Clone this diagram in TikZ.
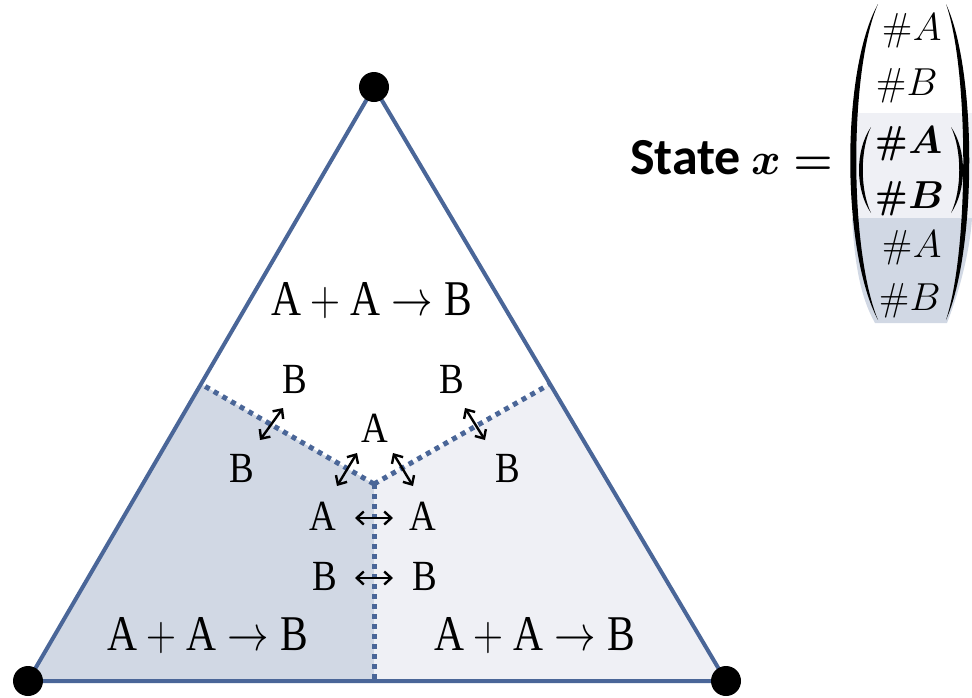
\RequirePackage{fix-cm}
\documentclass[tikz,border=0pt]{standalone}
\usepackage{fontspec}
\usepackage{amsmath}
\newfontfamily\carlito{Carlito}
\newfontfamily\lsf{Liberation Serif}
\usetikzlibrary{arrows.meta}
\definecolor{edge}{HTML}{4A6698}
\definecolor{darkfill}{HTML}{D1D8E4}
\definecolor{lightfill}{HTML}{EFF0F5}
\newcommand\sqz[1]{\scalebox{0.86}[1]{\lsf #1}}
\newcommand\rxn{\scalebox{0.83}[1]{$\text{\lsf A}+\text{\lsf A}\rightarrow\text{\lsf B}$}}
\newcommand\beq{\boldsymbol{x}\boldsymbol{=}}
\begin{document}
\begin{tikzpicture}[x=1pt,y=-1pt,
  big/.style={inner sep=0pt,anchor=base,font=\fontsize{50}{56}\selectfont},
  mid/.style={inner sep=0pt,anchor=base,font=\fontsize{43}{50}\selectfont},
  ent/.style={inner sep=0pt,anchor=base,font=\fontsize{39}{44}\selectfont},
  eqf/.style={inner sep=0pt,anchor=base west,font=\fontsize{45}{50}\selectfont},
  statef/.style={inner sep=0pt,anchor=base west,font=\carlito\bfseries\fontsize{52}{58}\selectfont},
  tri/.style={draw=edge,line width=4pt,line join=round},
  part/.style={draw=edge,line width=5pt,dash pattern=on 5pt off 5pt},
  vdot/.style={circle,fill=black,minimum size=30pt,inner sep=0pt},
  swap/.style={black,line width=2.4pt,{Straight Barb[length=7pt,width=13pt]}-{Straight Barb[length=7pt,width=13pt]}},
]
\useasboundingbox (0,0) rectangle (972,697);
% geometry
\coordinate (T) at (374,87);
\coordinate (L) at (28,681);
\coordinate (R) at (726,681);
\coordinate (C) at (374,484);
\coordinate (ML) at (201,384);
\coordinate (MR) at (550,384);
\coordinate (MB) at (374,681);
% regions
\fill[darkfill] (L) -- (ML) -- (C) -- (MB) -- cycle;
\fill[lightfill] (R) -- (MR) -- (C) -- (MB) -- cycle;
\draw[part] (C) -- (ML);
\draw[part] (C) -- (MR);
\draw[part] (C) -- (MB);
\draw[tri] (T) -- (L) -- (R) -- cycle;
\node[vdot] (dT) at (T) {};
\node[vdot] (dL) at (L) {};
\node[vdot] (dR) at (R) {};
% reaction labels
\node[big] (rTop) at (372,315) {\rxn};
\node[big] (rL) at (208,650) {\rxn};
\node[big] (rR) at (535,650) {\rxn};
% species labels
\node[mid] (bTL) at (295,393) {\sqz{B}};
\node[mid] (bTR) at (452,393) {\sqz{B}};
\node[mid] (aC) at (375,442) {\sqz{A}};
\node[mid] (bL) at (242,482) {\sqz{B}};
\node[mid] (bR) at (508,482) {\sqz{B}};
\node[mid] (aL) at (323,530) {\sqz{A}};
\node[mid] (aR) at (423,530) {\sqz{A}};
\node[mid] (bbL) at (325,590) {\sqz{B}};
\node[mid] (bbR) at (425,590) {\sqz{B}};
% exchange arrows
\coordinate (d1a) at (283,408); \coordinate (d1b) at (260,440);
\coordinate (d2a) at (357,453); \coordinate (d2b) at (337,486);
\coordinate (d3a) at (393,453); \coordinate (d3b) at (413,486);
\coordinate (d4a) at (465,408); \coordinate (d4b) at (485,440);
\coordinate (h1a) at (355,518); \coordinate (h1b) at (393,518);
\coordinate (h2a) at (355,578); \coordinate (h2b) at (393,578);
\draw[swap] (d1a) -- (d1b);
\draw[swap] (d2a) -- (d2b);
\draw[swap] (d3a) -- (d3b);
\draw[swap] (d4a) -- (d4b);
\draw[swap] (h1a) -- (h1b);
\draw[swap] (h2a) -- (h2b);
% state vector
\fill[lightfill] (856,113) rectangle (972,218);
\fill[darkfill] (852,218) .. controls (855,270) and (862,300) .. (875,323) -- (947,323) .. controls (960,290) and (970,250) .. (972,218) -- cycle;
\fill[black] (878,4) .. controls (841,70) and (841,250) .. (878,320) .. controls (849,250) and (849,70) .. (878,4) -- cycle;
\fill[black] (946,4) .. controls (977,70) and (977,250) .. (946,320) .. controls (969,250) and (969,70) .. (946,4) -- cycle;
\fill[black] (871,127) .. controls (855,150) and (855,190) .. (871,213) .. controls (860,190) and (860,150) .. (871,127) -- cycle;
\fill[black] (951,127) .. controls (967,150) and (967,190) .. (951,213) .. controls (962,190) and (962,150) .. (951,127) -- cycle;
\node[statef] (state) at (630,174) {State};
\node[eqf] (xeq) at (751,174) {$\beq$};
\node[ent] (e1) at (912,40) {$\#A$};
\node[ent] (e2) at (907,95) {$\#B$};
\node[ent] (e3) at (909,153) {$\boldsymbol{\#A}$};
\node[ent] (e4) at (910,208) {$\boldsymbol{\#B}$};
\node[ent] (e5) at (912,257) {$\#A$};
\node[ent] (e6) at (910,310) {$\#B$};
\end{tikzpicture}
\end{document}
